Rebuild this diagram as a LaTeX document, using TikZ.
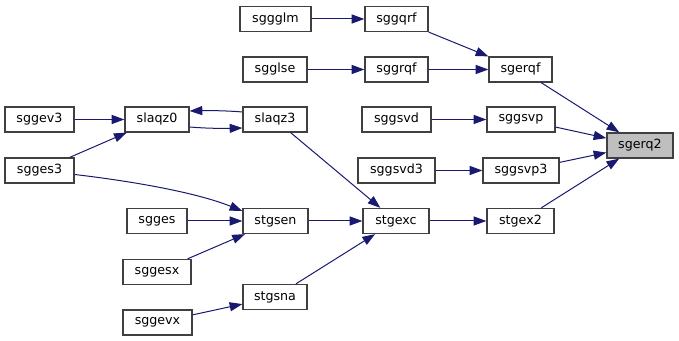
\documentclass[tikz,border=0pt]{standalone}
\usepackage{fontspec}
\setmainfont{DejaVu Sans}
\usetikzlibrary{arrows.meta,calc}
\definecolor{edgeblue}{HTML}{191970}
\definecolor{boxline}{HTML}{404040}
\definecolor{focusfill}{HTML}{BFBFBF}
\tikzset{
  fn/.style={draw=boxline, line width=1pt, fill=white, minimum height=18.75pt,
    inner sep=0pt, font=\fontsize{9.5}{11}\selectfont},
  focus/.style={fn, fill=focusfill},
  call/.style={draw=edgeblue, line width=0.75pt,
    -{Triangle[length=9.5pt,width=6.8pt,fill=edgeblue]}},
}
\begin{document}
\begin{tikzpicture}[x=0.75pt,y=-0.75pt]
\useasboundingbox (0,0) rectangle (679,341);
% routines
\node[focus, minimum width=49.5pt] (sgerq2) at (640,145.5) {sgerq2};
\node[fn, minimum width=47.25pt] (sgerqf) at (520.5,69.5) {sgerqf};
\node[fn, minimum width=51pt] (sggsvp) at (521,119.5) {sggsvp};
\node[fn, minimum width=57pt] (sggsvp3) at (521,170.5) {sggsvp3};
\node[fn, minimum width=50.25pt] (stgex2) at (520.5,221) {stgex2};
\node[fn, minimum width=47.25pt] (sggqrf) at (396.5,19) {sggqrf};
\node[fn, minimum width=53.25pt] (sggglm) at (275.5,19) {sggglm};
\node[fn, minimum width=47.25pt] (sggrqf) at (396.5,69.5) {sggrqf};
\node[fn, minimum width=48pt] (sgglse) at (275,69.5) {sgglse};
\node[fn, minimum width=51.75pt] (sggsvd) at (396.5,119.5) {sggsvd};
\node[fn, minimum width=57.75pt] (sggsvd3) at (396.5,170.5) {sggsvd3};
\node[fn, minimum width=49.5pt] (stgexc) at (396,221) {stgexc};
\node[fn, minimum width=48pt] (slaqz3) at (275,119.5) {slaqz3};
\node[fn, minimum width=48pt] (slaqz0) at (157,119.5) {slaqz0};
\node[fn, minimum width=51.75pt] (sggev3) at (39.5,119.5) {sggev3};
\node[fn, minimum width=51.75pt] (sgges3) at (39.5,170.5) {sgges3};
\node[fn, minimum width=48.75pt] (stgsen) at (275.5,221) {stgsen};
\node[fn, minimum width=45pt] (sgges) at (157,221) {sgges};
\node[fn, minimum width=51pt] (sggesx) at (157,272) {sggesx};
\node[fn, minimum width=48pt] (stgsna) at (275,297) {stgsna};
\node[fn, minimum width=51.75pt] (sggevx) at (157.5,322.5) {sggevx};
% calls
\draw[call] (sggglm) -- (sggqrf);
\draw[call] (sgglse) -- (sggrqf);
\draw[call] (sggqrf) -- (sgerqf);
\draw[call] (sggrqf) -- (sgerqf);
\draw[call] (sgerqf) -- (sgerq2);
\draw[call] (sggsvd) -- (sggsvp);
\draw[call] (sggsvp) -- (sgerq2);
\draw[call] (sggsvd3) -- (sggsvp3);
\draw[call] (sggsvp3) -- (sgerq2);
\draw[call] (stgex2) -- (sgerq2);
\draw[call] (stgexc) -- (stgex2);
\draw[call] (slaqz3) -- (stgexc);
\draw[call] (stgsen) -- (stgexc);
\draw[call] (stgsna) -- (stgexc);
\draw[call] (sggev3) -- (slaqz0);
\draw[call] (sgges3) -- (slaqz0);
\draw[call] ($(slaqz3.west)+(0,-7.5)$) .. controls (225,110.5) and (205,110.5) .. ($(slaqz0.east)+(0,-8.5)$);
\draw[call] ($(slaqz0.east)+(0,7.5)$) .. controls (207,128.5) and (225,128.5) .. ($(slaqz3.west)+(0,8.5)$);
\draw[call] ($(sgges3.east)+(0,4)$) .. controls (130,181) and (195,192) .. ($(stgsen.west)+(0,-10)$);
\draw[call] (sgges) -- (stgsen);
\draw[call] (sggesx) -- (stgsen);
\draw[call] (sggevx) -- (stgsna);
\end{tikzpicture}
\end{document}
